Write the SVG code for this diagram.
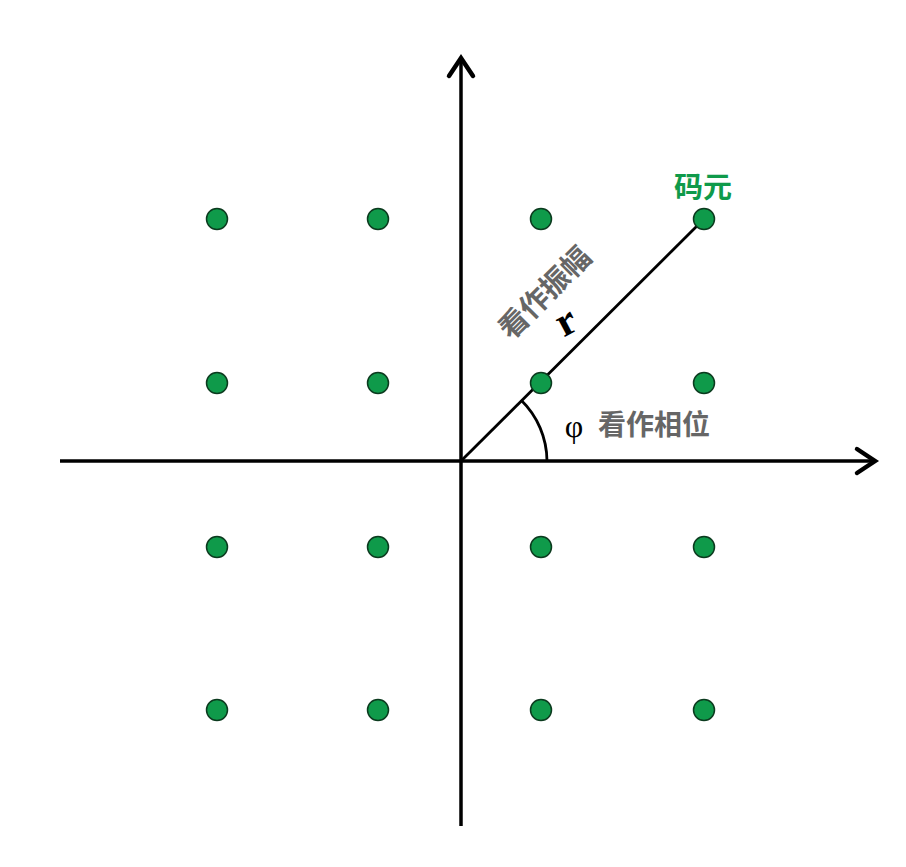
<svg xmlns="http://www.w3.org/2000/svg" width="906" height="867" viewBox="0 0 906 867">
<style>
.axis{stroke:#000;stroke-width:3.5;fill:none}
.head{stroke:#000;stroke-width:4.5;fill:none;stroke-linecap:round;stroke-linejoin:miter}
.dot{fill:#0f9a4a;stroke:#0b3a1e;stroke-width:1.5}
.lbl{font-family:"Noto Sans CJK SC","Noto Sans",sans-serif;font-weight:bold;fill:#666}
</style>
<rect width="906" height="867" fill="#fff"/>
<g id="connectors">
<line class="axis" x1="461" y1="60" x2="461" y2="826"/>
<polyline class="head" points="449,76 461,58 473,76"/>
<line class="axis" x1="60" y1="461" x2="874" y2="461"/>
<polyline class="head" points="857,449 875,461 857,473"/>
<line x1="461" y1="461" x2="704" y2="219" stroke="#000" stroke-width="2.8"/>
<path d="M 521,400 A 86 86 0 0 1 547,461" fill="none" stroke="#000" stroke-width="2.8"/>
</g>
<g id="dots">
<circle class="dot" cx="217" cy="219" r="10.5"/>
<circle class="dot" cx="378" cy="219" r="10.5"/>
<circle class="dot" cx="541" cy="219" r="10.5"/>
<circle class="dot" cx="704" cy="219" r="10.5"/>
<circle class="dot" cx="217" cy="383" r="10.5"/>
<circle class="dot" cx="378" cy="383" r="10.5"/>
<circle class="dot" cx="541" cy="383" r="10.5"/>
<circle class="dot" cx="704" cy="383" r="10.5"/>
<circle class="dot" cx="217" cy="547" r="10.5"/>
<circle class="dot" cx="378" cy="547" r="10.5"/>
<circle class="dot" cx="541" cy="547" r="10.5"/>
<circle class="dot" cx="704" cy="547" r="10.5"/>
<circle class="dot" cx="217" cy="710" r="10.5"/>
<circle class="dot" cx="378" cy="710" r="10.5"/>
<circle class="dot" cx="541" cy="710" r="10.5"/>
<circle class="dot" cx="704" cy="710" r="10.5"/>
</g>
<g id="labels">
<text x="703" y="198" text-anchor="middle" font-family="'Noto Sans CJK SC',sans-serif" font-weight="bold" font-size="29" fill="#0f9a4a">码元</text>
<text class="lbl" font-size="29" text-anchor="middle" transform="translate(552,300) rotate(-45)">看作振幅</text>
<text x="0" y="0" font-family="'Liberation Serif',serif" font-weight="bold" font-size="42" text-anchor="middle" transform="translate(572,333) rotate(-28)">r</text>
<text x="574" y="437" font-family="'Liberation Serif',serif" font-size="32" text-anchor="middle">φ</text>
<text class="lbl" x="598" y="435" font-size="28">看作相位</text>
</g>
</svg>
